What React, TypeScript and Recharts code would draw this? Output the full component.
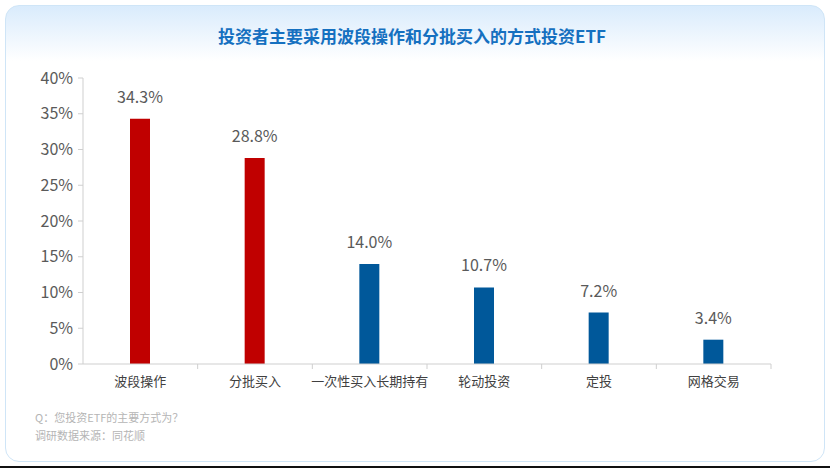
import { BarChart, Bar, XAxis, YAxis, LabelList, Cell } from "recharts";

const categories = ["波段操作", "分批买入", "一次性买入长期持有", "轮动投资", "定投", "网格交易"];
const shares = [34.3, 28.8, 14.0, 10.7, 7.2, 3.4];
const highlighted = [true, true, false, false, false, false];
const yTicks = [0, 5, 10, 15, 20, 25, 30, 35, 40];

const TITLE = "投资者主要采用波段操作和分批买入的方式投资ETF";
const NOTES = ["Q：您投资ETF的主要方式为？", "调研数据来源：同花顺"];

const RED = "#c00000";
const BLUE = "#00589a";
const AXIS = "#cfcfcf";
const FONT = '"Noto Sans CJK SC", "Noto Sans", sans-serif';

const data = categories.map((name, i) => ({ name, value: shares[i], hot: highlighted[i] }));

// x ticks sit on the band boundaries, not the centres
const CategoryTick = (props: any) => {
  const { x, y, payload } = props;
  const half = payload?.offset ?? 57;
  return (
    <g>
      <line x1={x + half} x2={x + half} y1={y - 8} y2={y - 3} stroke={AXIS} />
      <text x={x} y={y + 14} textAnchor="middle" fill="#404040" fontSize={13} fontFamily={FONT}>
        {payload.value}
      </text>
    </g>
  );
};

const App = () => {
  return (
    <div style={{ position: "relative", width: 830, height: 468, background: "#fff", fontFamily: FONT, overflow: "hidden" }}>
      <style>{"body{margin:0}"}</style>
      <div
        style={{
          position: "absolute",
          left: 5,
          top: 5,
          width: 818,
          height: 455,
          border: "1px solid #cfe5f7",
          borderRadius: 14,
          background: "linear-gradient(180deg, #d9ebfc 0px, #ffffff 55px)",
        }}
      />
      <div
        style={{
          position: "absolute",
          top: 23,
          left: 0,
          width: 824,
          textAlign: "center",
          color: "#1570c0",
          fontSize: 17,
          fontWeight: 700,
        }}
      >
        {TITLE}
      </div>
      <div style={{ position: "absolute", left: 0, top: 0 }}>
        <BarChart width={830} height={468} data={data} margin={{ top: 78, right: 59, left: 0, bottom: 74 }}>
          <YAxis
            type="number"
            domain={[0, 40]}
            ticks={yTicks}
            width={83}
            tickFormatter={(v: number) => `${v}%`}
            tick={{ fill: "#5a5a5a", fontSize: 16, fontFamily: FONT, dx: -3 }}
            axisLine={{ stroke: AXIS }}
            tickLine={{ stroke: AXIS }}
            tickSize={5}
          />
          <XAxis
            dataKey="name"
            height={30}
            interval={0}
            axisLine={{ stroke: AXIS }}
            tickLine={false}
            tick={<CategoryTick />}
          />
          <Bar dataKey="value" barSize={20} isAnimationActive={false}>
            {data.map((d, i) => (
              <Cell key={`c-${i}`} fill={d.hot ? RED : BLUE} />
            ))}
            <LabelList
              dataKey="value"
              position="top"
              offset={16}
              formatter={(v: any) => `${Number(v).toFixed(1)}%`}
              style={{ fill: "#5a5a5a", fontSize: 16, fontFamily: FONT }}
            />
          </Bar>
        </BarChart>
      </div>
      {NOTES.map((t, i) => (
        <div
          key={t}
          style={{ position: "absolute", left: 35, top: 409 + i * 18, fontSize: 11, color: "#b5b5b5" }}
        >
          {t}
        </div>
      ))}
      <div style={{ position: "absolute", left: 0, bottom: 0, width: 830, height: 2, background: "#111" }} />
    </div>
  );
};

export default App;
